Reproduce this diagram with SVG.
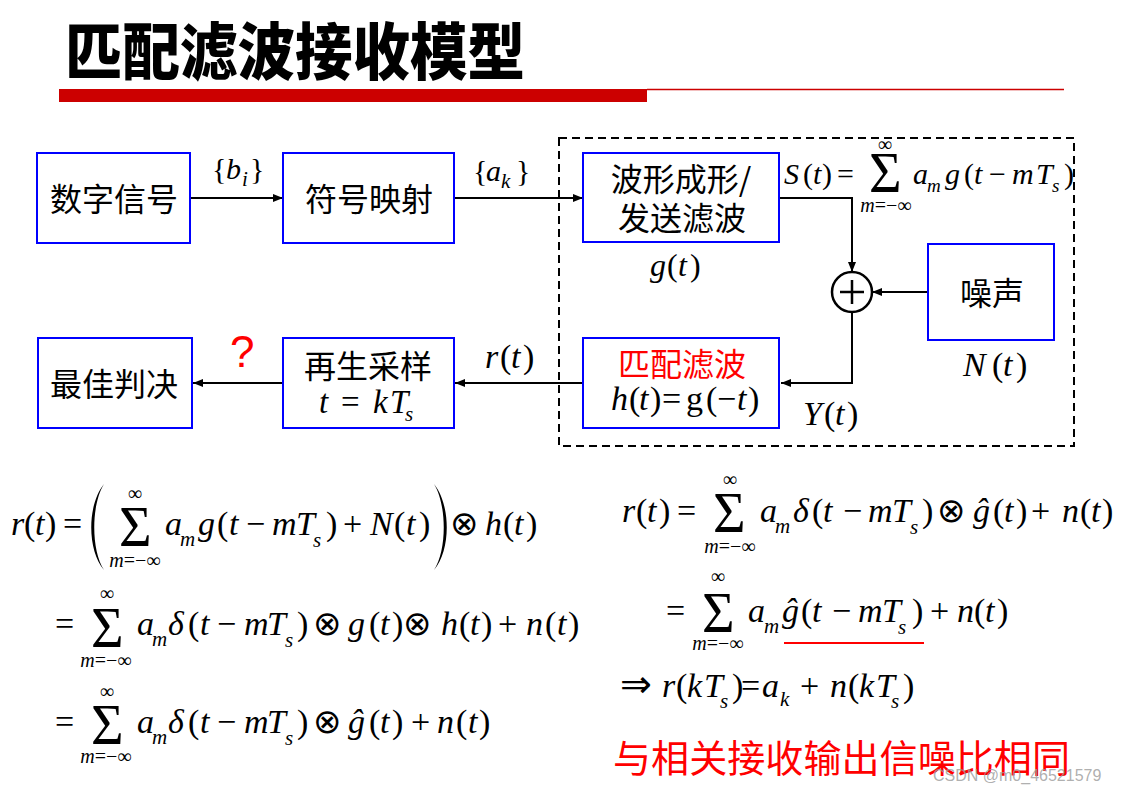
<svg xmlns="http://www.w3.org/2000/svg" width="1125" height="794" viewBox="0 0 1125 794">
<style>
.m{font-family:"Liberation Serif","Times New Roman","DejaVu Serif",serif;font-size:34px;fill:#000}
.i{font-style:italic}
.sb{font-size:21px;font-style:italic}
.lim{font-family:"Liberation Serif","Times New Roman","DejaVu Serif",serif;font-size:20px;text-anchor:middle;fill:#000}
.sig{font-size:56px;font-style:normal}
.ot{font-family:"DejaVu Sans",sans-serif;font-size:34px}
.cjk{font-family:"Noto Sans CJK SC","Noto Sans CJK JP",sans-serif;font-size:32px;text-anchor:middle;fill:#000}
.box{fill:#fff;stroke:#0000ff;stroke-width:2}
.conn path{stroke:#000;stroke-width:2;fill:none}
</style>
<defs>
<marker id="ah" viewBox="0 0 10 10" refX="10" refY="5" markerWidth="11" markerHeight="10" markerUnits="userSpaceOnUse" orient="auto"><path d="M0,1 L10,5 L0,9 z" fill="#000"/></marker>
</defs>
<rect width="1125" height="794" fill="#fff"/>

<!-- Title -->
<g id="title">
<text x="65" y="75" font-family="Noto Sans CJK SC, sans-serif" font-weight="900" font-size="62" textLength="460" lengthAdjust="spacingAndGlyphs" fill="#000">匹配滤波接收模型</text>
<rect x="59" y="89" width="588" height="13" fill="#cc0000"/>
<line x1="647" y1="89.5" x2="1064" y2="89.5" stroke="#cc0000" stroke-width="1.5"/>
</g>

<!-- dashed region -->
<rect id="region" x="559" y="138" width="515" height="308" fill="none" stroke="#000" stroke-width="2" stroke-dasharray="8 5"/>

<!-- connectors -->
<g class="conn">
<path d="M190,198 H283" marker-end="url(#ah)"/>
<path d="M454,198 H583" marker-end="url(#ah)"/>
<path d="M779,198 H852 V272" marker-end="url(#ah)"/>
<path d="M927,292 H872" marker-end="url(#ah)"/>
<path d="M852,312 V383 H781" marker-end="url(#ah)"/>
<path d="M583,383 H455" marker-end="url(#ah)"/>
<path d="M283,383 H193" marker-end="url(#ah)"/>
</g>

<!-- nodes -->
<g id="n-digital">
<rect class="box" x="37" y="153" width="153" height="90"/>
<text class="cjk" x="114" y="211">数字信号</text>
</g>
<g id="n-map">
<rect class="box" x="283" y="153" width="171" height="90"/>
<text class="cjk" x="369" y="211">符号映射</text>
</g>
<g id="n-shape">
<rect class="box" x="583" y="153" width="196" height="89"/>
<text class="cjk" x="681" y="191">波形成形/</text>
<text class="cjk" x="682" y="230">发送滤波</text>
</g>
<g id="n-sum">
<circle cx="852" cy="292" r="20" fill="#fff" stroke="#000" stroke-width="2.5"/>
<path d="M840,292 H864 M852,280 V304" stroke="#000" stroke-width="2.5"/>
</g>
<g id="n-noise">
<rect class="box" x="928" y="244" width="126" height="96"/>
<text class="cjk" x="992" y="305">噪声</text>
</g>
<g id="n-mf">
<rect class="box" x="583" y="338" width="196" height="90"/>
<text class="cjk" x="682" y="376" style="fill:#ff0000">匹配滤波</text>
<text class="m" y="410"><tspan x="611" class="i">h</tspan><tspan x="629">(</tspan><tspan x="639" class="i">t</tspan><tspan x="650">)</tspan><tspan x="662">=</tspan><tspan x="686">g</tspan><tspan x="706">(</tspan><tspan x="717">−</tspan><tspan x="737" class="i">t</tspan><tspan x="748">)</tspan></text>
</g>
<g id="n-sample">
<rect class="box" x="283" y="338" width="171" height="90"/>
<text class="cjk" x="368" y="378">再生采样</text>
<text class="m" y="413" style="font-size:33px"><tspan x="319" class="i">t</tspan><tspan x="341">=</tspan><tspan x="373" class="i">k</tspan><tspan x="390" class="i">T</tspan><tspan x="405" y="421" class="sb">s</tspan></text>
</g>
<g id="n-decide">
<rect class="box" x="38" y="338" width="154" height="90"/>
<text class="cjk" x="114" y="396">最佳判决</text>
</g>

<!-- labels on diagram -->
<g id="labels">
<text class="m" y="179" style="font-size:30px"><tspan x="212">{</tspan><tspan x="226" class="i">b</tspan><tspan x="242" y="186" class="sb">i</tspan><tspan x="250" y="179">}</tspan></text>
<text class="m" y="181" style="font-size:30px"><tspan x="473">{</tspan><tspan x="486" class="i">a</tspan><tspan x="501" y="188" class="sb">k</tspan><tspan x="516" y="181">}</tspan></text>
<text x="230" y="367" font-family="Liberation Sans, Arial, sans-serif" font-size="44" fill="#ff0000">?</text>
<text class="m" y="368"><tspan x="485" class="i">r</tspan><tspan x="500">(</tspan><tspan x="511" class="i">t</tspan><tspan x="523">)</tspan></text>
<text class="m" y="276" style="font-size:32px"><tspan x="650" class="i">g</tspan><tspan x="667">(</tspan><tspan x="678" class="i">t</tspan><tspan x="690">)</tspan></text>
<text class="m" y="376"><tspan x="963" class="i">N</tspan><tspan x="992">(</tspan><tspan x="1003" class="i">t</tspan><tspan x="1016">)</tspan></text>
<text class="m" y="425"><tspan x="803" class="i">Y</tspan><tspan x="824">(</tspan><tspan x="835" class="i">t</tspan><tspan x="847">)</tspan></text>
<!-- S(t) -->
<text class="m" y="184" style="font-size:30px"><tspan x="784" class="i">S</tspan><tspan x="803">(</tspan><tspan x="813" class="i">t</tspan><tspan x="822">)</tspan><tspan x="837">=</tspan><tspan x="869" y="192" class="sig">Σ</tspan><tspan x="913" y="184" class="i">a</tspan><tspan x="927" y="192" class="sb" style="font-size:19px">m</tspan><tspan x="945" y="184" class="i">g</tspan><tspan x="964">(</tspan><tspan x="974" class="i">t</tspan><tspan x="989">−</tspan><tspan x="1012" class="i">m</tspan><tspan x="1036" class="i">T</tspan><tspan x="1052" y="192" class="sb" style="font-size:19px">s</tspan><tspan x="1064" y="184">)</tspan></text>
<text class="lim" x="885" y="151">∞</text>
<text class="lim" x="886" y="212"><tspan class="i">m</tspan>=−∞</text>
</g>

<!-- Left formulas -->
<g id="eq-left">
<text class="m" y="535"><tspan x="11" class="i">r</tspan><tspan x="24">(</tspan><tspan x="35" class="i">t</tspan><tspan x="45">)</tspan><tspan x="63">=</tspan><tspan x="119" y="546" class="sig">Σ</tspan><tspan x="165" y="535" class="i">a</tspan><tspan x="180" y="546" class="sb">m</tspan><tspan x="198" y="535" class="i">g</tspan><tspan x="217">(</tspan><tspan x="229" class="i">t</tspan><tspan x="246">−</tspan><tspan x="272" class="i">m</tspan><tspan x="296" class="i">T</tspan><tspan x="313" y="547" class="sb">s</tspan><tspan x="326" y="535">)</tspan><tspan x="343">+</tspan><tspan x="370" class="i">N</tspan><tspan x="394">(</tspan><tspan x="406" class="i">t</tspan><tspan x="419">)</tspan><tspan x="450" class="ot">⊗</tspan><tspan x="485" class="i">h</tspan><tspan x="503">(</tspan><tspan x="514" class="i">t</tspan><tspan x="526">)</tspan></text>
<path d="M104,484 C87,505 87,550 104,570 C91,550 91,505 104,484 Z" fill="#000"/>
<path d="M434,484 C451,505 451,550 434,570 C447,550 447,505 434,484 Z" fill="#000"/>
<text class="lim" x="135" y="500">∞</text>
<text class="lim" x="135" y="567"><tspan class="i">m</tspan>=−∞</text>

<text class="m" y="635"><tspan x="55">=</tspan><tspan x="91" y="647" class="sig">Σ</tspan><tspan x="137" y="635" class="i">a</tspan><tspan x="152" y="646" class="sb">m</tspan><tspan x="168" y="635" class="i">δ</tspan><tspan x="188">(</tspan><tspan x="200" class="i">t</tspan><tspan x="217">−</tspan><tspan x="244" class="i">m</tspan><tspan x="267" class="i">T</tspan><tspan x="285" y="647" class="sb">s</tspan><tspan x="297" y="635">)</tspan><tspan x="313" class="ot">⊗</tspan><tspan x="348" class="i">g</tspan><tspan x="369">(</tspan><tspan x="380" class="i">t</tspan><tspan x="392">)</tspan><tspan x="403" class="ot">⊗</tspan><tspan x="441" class="i">h</tspan><tspan x="459">(</tspan><tspan x="470" class="i">t</tspan><tspan x="481">)</tspan><tspan x="498">+</tspan><tspan x="526" class="i">n</tspan><tspan x="545">(</tspan><tspan x="557" class="i">t</tspan><tspan x="568">)</tspan></text>
<text class="lim" x="107" y="600">∞</text>
<text class="lim" x="106" y="667"><tspan class="i">m</tspan>=−∞</text>

<text class="m" y="733"><tspan x="55">=</tspan><tspan x="91" y="744" class="sig">Σ</tspan><tspan x="137" y="733" class="i">a</tspan><tspan x="152" y="744" class="sb">m</tspan><tspan x="168" y="733" class="i">δ</tspan><tspan x="188">(</tspan><tspan x="200" class="i">t</tspan><tspan x="217">−</tspan><tspan x="244" class="i">m</tspan><tspan x="267" class="i">T</tspan><tspan x="285" y="745" class="sb">s</tspan><tspan x="297" y="733">)</tspan><tspan x="313" class="ot">⊗</tspan><tspan x="348" class="i">ĝ</tspan><tspan x="369">(</tspan><tspan x="380" class="i">t</tspan><tspan x="392">)</tspan><tspan x="411">+</tspan><tspan x="437" class="i">n</tspan><tspan x="456">(</tspan><tspan x="468" class="i">t</tspan><tspan x="479">)</tspan></text>
<text class="lim" x="107" y="698">∞</text>
<text class="lim" x="106" y="763"><tspan class="i">m</tspan>=−∞</text>
</g>

<!-- Right formulas -->
<g id="eq-right">
<text class="m" y="522"><tspan x="622" class="i">r</tspan><tspan x="636">(</tspan><tspan x="647" class="i">t</tspan><tspan x="659">)</tspan><tspan x="677">=</tspan><tspan x="713" y="532" class="sig">Σ</tspan><tspan x="760" y="522" class="i">a</tspan><tspan x="775" y="533" class="sb">m</tspan><tspan x="793" y="522" class="i">δ</tspan><tspan x="812">(</tspan><tspan x="823" class="i">t</tspan><tspan x="843">−</tspan><tspan x="868" class="i">m</tspan><tspan x="892" class="i">T</tspan><tspan x="910" y="534" class="sb">s</tspan><tspan x="922" y="522">)</tspan><tspan x="937" class="ot">⊗</tspan><tspan x="973" class="i">ĝ</tspan><tspan x="993">(</tspan><tspan x="1004" class="i">t</tspan><tspan x="1016">)</tspan><tspan x="1031">+</tspan><tspan x="1062" class="i">n</tspan><tspan x="1080">(</tspan><tspan x="1091" class="i">t</tspan><tspan x="1102">)</tspan></text>
<text class="lim" x="730" y="486">∞</text>
<text class="lim" x="730" y="553"><tspan class="i">m</tspan>=−∞</text>

<text class="m" y="622"><tspan x="666">=</tspan><tspan x="702" y="632" class="sig">Σ</tspan><tspan x="748" y="622" class="i">a</tspan><tspan x="764" y="633" class="sb">m</tspan><tspan x="782" y="622" class="i">ĝ</tspan><tspan x="801">(</tspan><tspan x="812" class="i">t</tspan><tspan x="832">−</tspan><tspan x="858" class="i">m</tspan><tspan x="882" class="i">T</tspan><tspan x="898" y="634" class="sb">s</tspan><tspan x="912" y="622">)</tspan><tspan x="930">+</tspan><tspan x="957" class="i">n</tspan><tspan x="974">(</tspan><tspan x="985" class="i">t</tspan><tspan x="997">)</tspan></text>
<text class="lim" x="718" y="583">∞</text>
<text class="lim" x="718" y="650"><tspan class="i">m</tspan>=−∞</text>
<line x1="784" y1="643" x2="924" y2="643" stroke="#ff0000" stroke-width="2"/>

<text class="m" y="697"><tspan x="620" style="font-family:'DejaVu Sans',sans-serif;font-size:38px;font-style:normal">⇒</tspan><tspan x="662" class="i">r</tspan><tspan x="676">(</tspan><tspan x="687" class="i">k</tspan><tspan x="704" class="i">T</tspan><tspan x="720" y="708" class="sb">s</tspan><tspan x="732" y="697">)</tspan><tspan x="741">=</tspan><tspan x="762" class="i">a</tspan><tspan x="780" y="706" class="sb">k</tspan><tspan x="800" y="697">+</tspan><tspan x="830" class="i">n</tspan><tspan x="848">(</tspan><tspan x="859" class="i">k</tspan><tspan x="876" class="i">T</tspan><tspan x="891" y="708" class="sb">s</tspan><tspan x="903" y="697">)</tspan></text>
</g>

<text id="conclusion" x="613" y="772" font-family="Noto Sans CJK SC, sans-serif" font-size="38" textLength="457" lengthAdjust="spacingAndGlyphs" fill="#ff0000">与相关接收输出信噪比相同</text>
<text id="watermark" x="933" y="781" font-family="Liberation Sans, Arial, sans-serif" font-size="16" fill="#9a9a9a" fill-opacity="0.8">CSDN @m0_46521579</text>
</svg>
